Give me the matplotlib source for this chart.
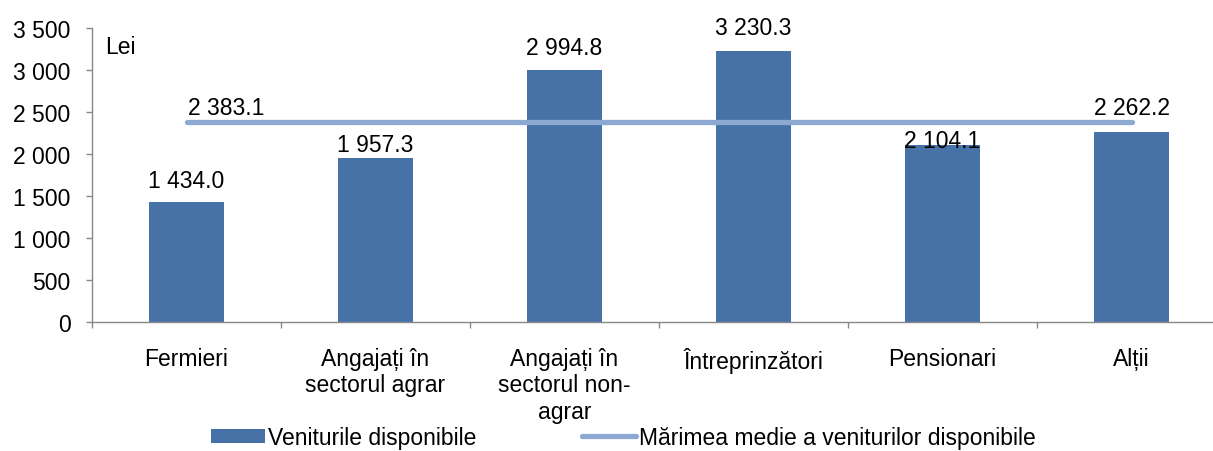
import matplotlib
matplotlib.use("Agg")
import matplotlib.pyplot as plt

# date
categorii = ["Fermieri", "Angajați în\nsectorul agrar", "Angajați în\nsectorul non-\nagrar",
             "Întreprinzători", "Pensionari", "Alții"]
venituri = [1434.0, 1957.3, 2994.8, 3230.3, 2104.1, 2262.2]
media = [2383.1, 2383.1, 2383.1, 2383.1, 2383.1, 2383.1]
y_ticks = [0, 500, 1000, 1500, 2000, 2500, 3000, 3500]


def fmt(v, dec=1):
    # separator de mii cu spatiu
    s = f"{v:,.{dec}f}" if dec else f"{v:,.0f}"
    return s.replace(",", " ")


plt.rcParams["font.family"] = ["Liberation Sans", "DejaVu Sans"]
fs = 16.5
culoare_bara = "#4672A8"
culoare_linie = "#8EA9D1"
culoare_ax = "#888888"

fig = plt.figure(figsize=(12.13, 4.52), dpi=100)
ax = fig.add_axes([92 / 1213, 1 - 323.3 / 452, (1226 - 92) / 1213, (323.3 - 29) / 452])

x = list(range(len(categorii)))
bare = ax.bar(x, venituri, width=0.4, color=culoare_bara, label="Veniturile disponibile", zorder=2)
linie, = ax.plot(x, media, color=culoare_linie, lw=3.8, solid_capstyle="round",
                 label="Mărimea medie a veniturilor disponibile", zorder=3)

# etichete de date (decalaj in puncte, ajustat ca in original)
decalaje = [10.5, 4.5, 12, 12, -1, 13]
for xi, v, d in zip(x, venituri, decalaje):
    ax.annotate(fmt(v), (xi, v), xytext=(0, d), textcoords="offset points",
                ha="center", va="baseline", fontsize=fs, zorder=4)
ax.annotate(fmt(media[0]), (x[0], media[0]), xytext=(1, 6), textcoords="offset points",
            ha="left", va="baseline", fontsize=fs, zorder=4)

ax.text(0.012, 0.975, "Lei", transform=ax.transAxes, fontsize=fs, va="top", ha="left")

ax.set_xlim(-0.5, 5.5)
ax.set_ylim(0, 3500)
ax.set_yticks(y_ticks)
ax.set_yticklabels([fmt(t, 0) for t in y_ticks])
ax.set_xticks(x)
ax.set_xticklabels(categorii)
ax.set_xticks([i - 0.5 for i in range(len(categorii) + 1)], minor=True)
ax.tick_params(axis="x", which="major", length=0, pad=17.5, labelsize=fs)
ax.tick_params(axis="x", which="minor", length=4.5, width=1, color=culoare_ax, direction="out")
ax.tick_params(axis="y", length=4.5, width=1, color=culoare_ax, pad=11, labelsize=fs)

for s in ["top", "right"]:
    ax.spines[s].set_visible(False)
for s in ["left", "bottom"]:
    ax.spines[s].set_color(culoare_ax)
    ax.spines[s].set_linewidth(1)

fig.legend(handles=[bare, linie], loc="center left", bbox_to_anchor=(211 / 1213, 0.03), ncol=2,
           frameon=False, fontsize=fs, handlelength=2.35, handleheight=0.6, handletextpad=0.15,
           columnspacing=4.6, borderpad=0, borderaxespad=0)

plt.savefig("out.png", dpi=100)
plt.close()
